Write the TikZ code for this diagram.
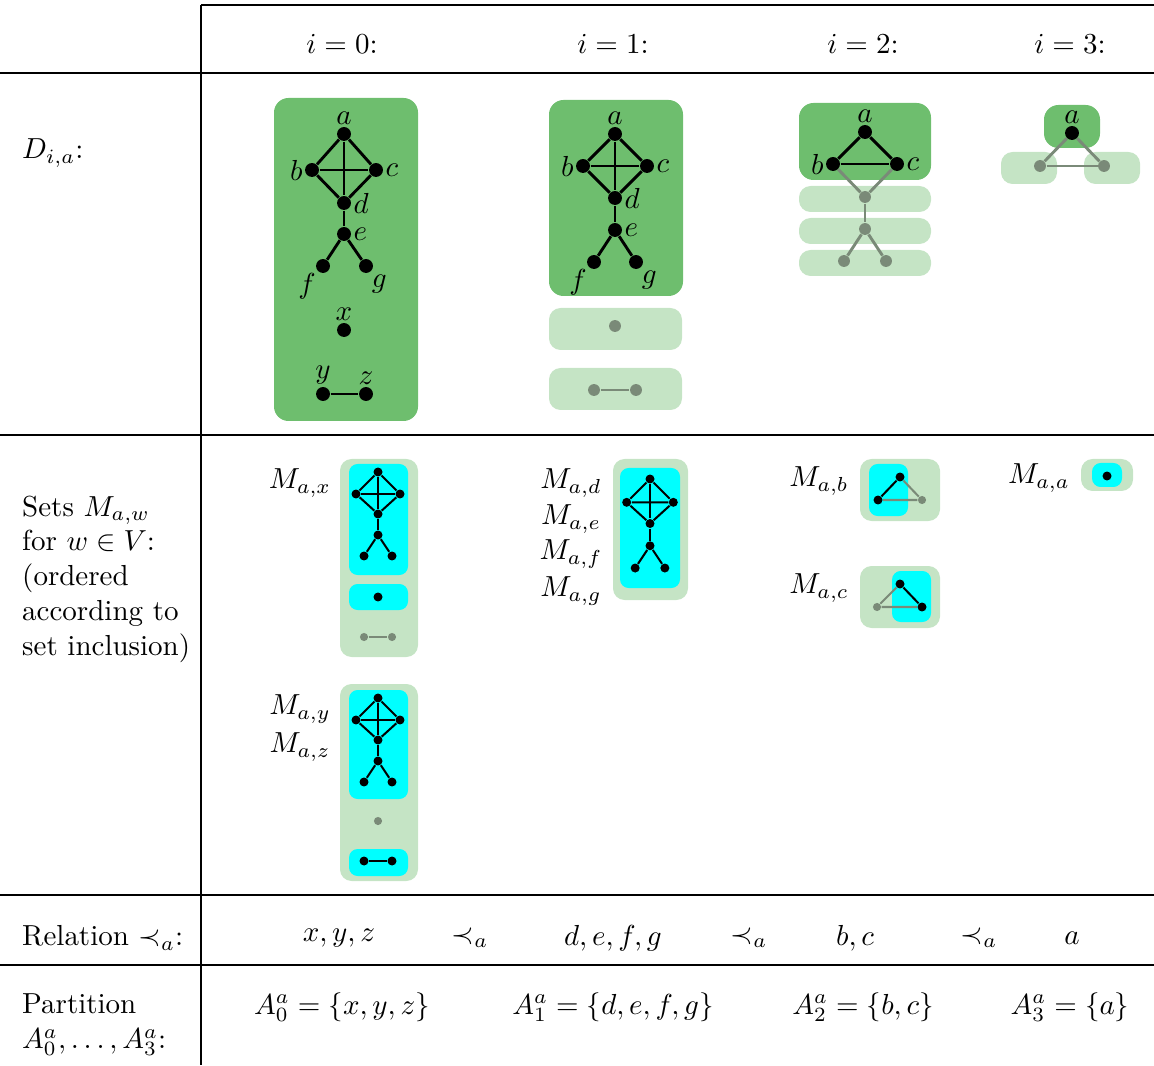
\documentclass[tikz,border=0pt]{standalone}
\usepackage{amsmath,amssymb}
\usetikzlibrary{positioning}
\definecolor{dgreen}{RGB}{110,190,110}
\definecolor{lgreen}{RGB}{197,228,197}
\definecolor{vgray}{RGB}{122,138,120}
\definecolor{mcyan}{RGB}{0,255,255}

% small copy of the graph, #1 prefix, #2,#3 position of a, #4 scale
\newcommand{\minigraph}[4]{%
  \begin{scope}[shift={(#2,#3)},scale=#4]
    \foreach \n/\dx/\dy in {a/0/0,b/-22/22,c/22/22,d/0/42,e/0/63,f/-14/84,g/14/84}
      \node[sv] (#1\n) at (\dx,\dy) {};
    \foreach \u/\v in {a/b,a/c,a/d,b/c,b/d,c/d,d/e,e/f,e/g}
      \draw[sed] (#1\u) -- (#1\v);
  \end{scope}}

\begin{document}
\begin{tikzpicture}[x=0.345pt,y=-0.345pt,
  bv/.style={circle,fill=black,inner sep=0pt,minimum size=4.8pt},
  gv/.style={circle,fill=vgray,inner sep=0pt,minimum size=4.1pt},
  sv/.style={circle,fill=black,inner sep=0pt,minimum size=3.1pt},
  sgv/.style={circle,fill=vgray,inner sep=0pt,minimum size=2.8pt},
  ed/.style={line width=1pt},
  ged/.style={vgray,line width=1pt},
  sed/.style={line width=0.7pt},
  sged/.style={vgray,line width=0.7pt},
  dbox/.style={fill=dgreen,rounded corners=5pt},
  lbox/.style={fill=lgreen,rounded corners=4pt},
  cbox/.style={fill=mcyan,rounded corners=3pt},
  rule/.style={line width=0.4pt},
  every label/.append style={inner sep=0.5pt}]
\useasboundingbox (0,0) rectangle (1154,1065);

% table rules
\draw[rule] (201,5) -- (1154,5);
\foreach \y in {73,435,895,965}
  \draw[rule] (0,\y) -- (1154,\y);
\draw[rule] (201,5) -- (201,1065);

% header
\foreach \i/\x in {0/342,1/613,2/863,3/1070}
  \node (h\i) at (\x,44) {$i=\i$:};

% row labels
\node[anchor=west] (rowD) at (12,153) {$D_{i,a}$:};
\node[anchor=west,align=left] (rowM) at (12,579) {Sets $M_{a,w}$\\for $w\in V$:\\(ordered\\according to\\set inclusion)};
\node[anchor=west] (rowR) at (12,938) {Relation $\prec_a$:};
\node[anchor=west,align=left] (rowP) at (12,1025) {Partition\\$A^a_0,\dots,A^a_3$:};

% ---- D_{0,a}
\fill[dbox] (274,98) rectangle (418,421);
\node[bv,label=above:$a$] (a0) at (344,134) {};
\node[bv,label=left:$b$] (b0) at (312,170) {};
\node[bv,label=right:$c$] (c0) at (376,170) {};
\node[bv,label=right:$d$] (d0) at (344,203) {};
\node[bv,label=right:$e$] (e0) at (344,234) {};
\node[bv,label=225:$f$] (f0) at (323,266) {};
\node[bv,label=-60:$g$] (g0) at (366,266) {};
\node[bv,label=above:$x$] (x0) at (344,330) {};
\node[bv,label=above:$y$] (y0) at (323,394) {};
\node[bv,label=above:$z$] (z0) at (366,394) {};
\foreach \u/\v in {a/b,a/c,a/d,b/c,b/d,c/d,d/e,e/f,e/g,y/z}
  \draw[ed] (\u0) -- (\v0);

% ---- D_{1,a}
\fill[dbox] (549,100) rectangle (683,296);
\fill[lbox] (549,308) rectangle (682,350);
\fill[lbox] (549,368) rectangle (682,410);
\node[bv,label=above:$a$] (a1) at (615,134) {};
\node[bv,label=left:$b$] (b1) at (583,166) {};
\node[bv,label=right:$c$] (c1) at (647,166) {};
\node[bv,label=right:$d$] (d1) at (615,198) {};
\node[bv,label=right:$e$] (e1) at (615,230) {};
\node[bv,label=225:$f$] (f1) at (594,262) {};
\node[bv,label=-60:$g$] (g1) at (636,262) {};
\node[gv] (x1) at (615,326) {};
\node[gv] (y1) at (594,390) {};
\node[gv] (z1) at (636,390) {};
\foreach \u/\v in {a/b,a/c,a/d,b/c,b/d,c/d,d/e,e/f,e/g}
  \draw[ed] (\u1) -- (\v1);
\draw[ged] (y1) -- (z1);

% ---- D_{2,a}
\fill[dbox] (799,103) rectangle (931,180);
\foreach \y in {186,218,250}
  \fill[lbox] (799,\y) rectangle (931,\y+26);
\node[bv,label=above:$a$] (a2) at (865,132) {};
\node[bv,label=left:$b$] (b2) at (833,164) {};
\node[bv,label=right:$c$] (c2) at (897,164) {};
\node[gv] (d2) at (865,197) {};
\node[gv] (e2) at (865,229) {};
\node[gv] (f2) at (844,261) {};
\node[gv] (g2) at (886,261) {};
\foreach \u/\v in {a/b,a/c,b/c}
  \draw[ed] (\u2) -- (\v2);
\foreach \u/\v in {b/d,c/d,d/e,e/f,e/g}
  \draw[ged] (\u2) -- (\v2);

% ---- D_{3,a}
\fill[dbox] (1044,105) rectangle (1100,148);
\fill[lbox] (1001,152) rectangle (1057,184);
\fill[lbox] (1084,152) rectangle (1140,184);
\node[bv,label=above:$a$] (a3) at (1072,133) {};
\node[gv] (b3) at (1040,166) {};
\node[gv] (c3) at (1104,166) {};
\foreach \u/\v in {a/b,a/c,b/c}
  \draw[ged] (\u3) -- (\v3);

% ---- sets M_{a,w}
\node (Max) at (300,483) {$M_{a,x}$};
\fill[lbox] (340,459) rectangle (418,657);
\fill[cbox] (349,464) rectangle (408,575);
\fill[cbox] (349,584) rectangle (408,610);
\minigraph{mx}{378}{472}{1}
\node[sv] (mxx) at (378,597) {};
\node[sgv] (mxy) at (364,637) {};
\node[sgv] (mxz) at (392,637) {};
\draw[sged] (mxy) -- (mxz);

\node (May) at (300,709) {$M_{a,y}$};
\node (Maz) at (300,747) {$M_{a,z}$};
\fill[lbox] (340,684) rectangle (418,881);
\fill[cbox] (349,690) rectangle (408,799);
\fill[cbox] (349,849) rectangle (408,876);
\minigraph{my}{378}{698}{1}
\node[sgv] (myx) at (378,821) {};
\node[sv] (myy) at (364,861) {};
\node[sv] (myz) at (392,861) {};
\draw[sed] (myy) -- (myz);

\foreach \w/\y in {d/483,e/519,f/554,g/591}
  \node (Ma\w) at (571,\y) {$M_{a,\w}$};
\fill[lbox] (613,459) rectangle (688,600);
\fill[cbox] (620,468) rectangle (680,588);
\minigraph{md}{650}{479}{1.06}

\node (Mab) at (819,481) {$M_{a,b}$};
\fill[lbox] (860,459) rectangle (940,521);
\fill[cbox] (869,464) rectangle (908,516);
\node[sv] (mba) at (900,477) {};
\node[sv] (mbb) at (878,500) {};
\node[sgv] (mbc) at (922,500) {};
\draw[sged] (mba) -- (mbc) -- (mbb);
\draw[sed] (mba) -- (mbb);

\node (Mac) at (819,588) {$M_{a,c}$};
\fill[lbox] (860,566) rectangle (940,628);
\fill[cbox] (892,571) rectangle (931,622);
\node[sv] (mca) at (900,584) {};
\node[sgv] (mcb) at (877,607) {};
\node[sv] (mcc) at (922,607) {};
\draw[sged] (mca) -- (mcb) -- (mcc);
\draw[sed] (mca) -- (mcc);

\node (Maa) at (1039,478) {$M_{a,a}$};
\fill[lbox] (1081,459) rectangle (1133,491);
\fill[cbox] (1092,463) rectangle (1122,487);
\node[sv] (maa) at (1107,476) {};

% ---- relation
\foreach \t/\x [count=\k] in {{$x,y,z$}/339,{$\prec_a$}/470,{$d,e,f,g$}/613,{$\prec_a$}/749,{$b,c$}/855,{$\prec_a$}/979,{$a$}/1072}
  \node (rel\k) at (\x,938) {\t};

% ---- partition
\node (P0) at (342,1007) {$A^a_0=\{x,y,z\}$};
\node (P1) at (613,1007) {$A^a_1=\{d,e,f,g\}$};
\node (P2) at (863,1007) {$A^a_2=\{b,c\}$};
\node (P3) at (1070,1007) {$A^a_3=\{a\}$};
\end{tikzpicture}
\end{document}
